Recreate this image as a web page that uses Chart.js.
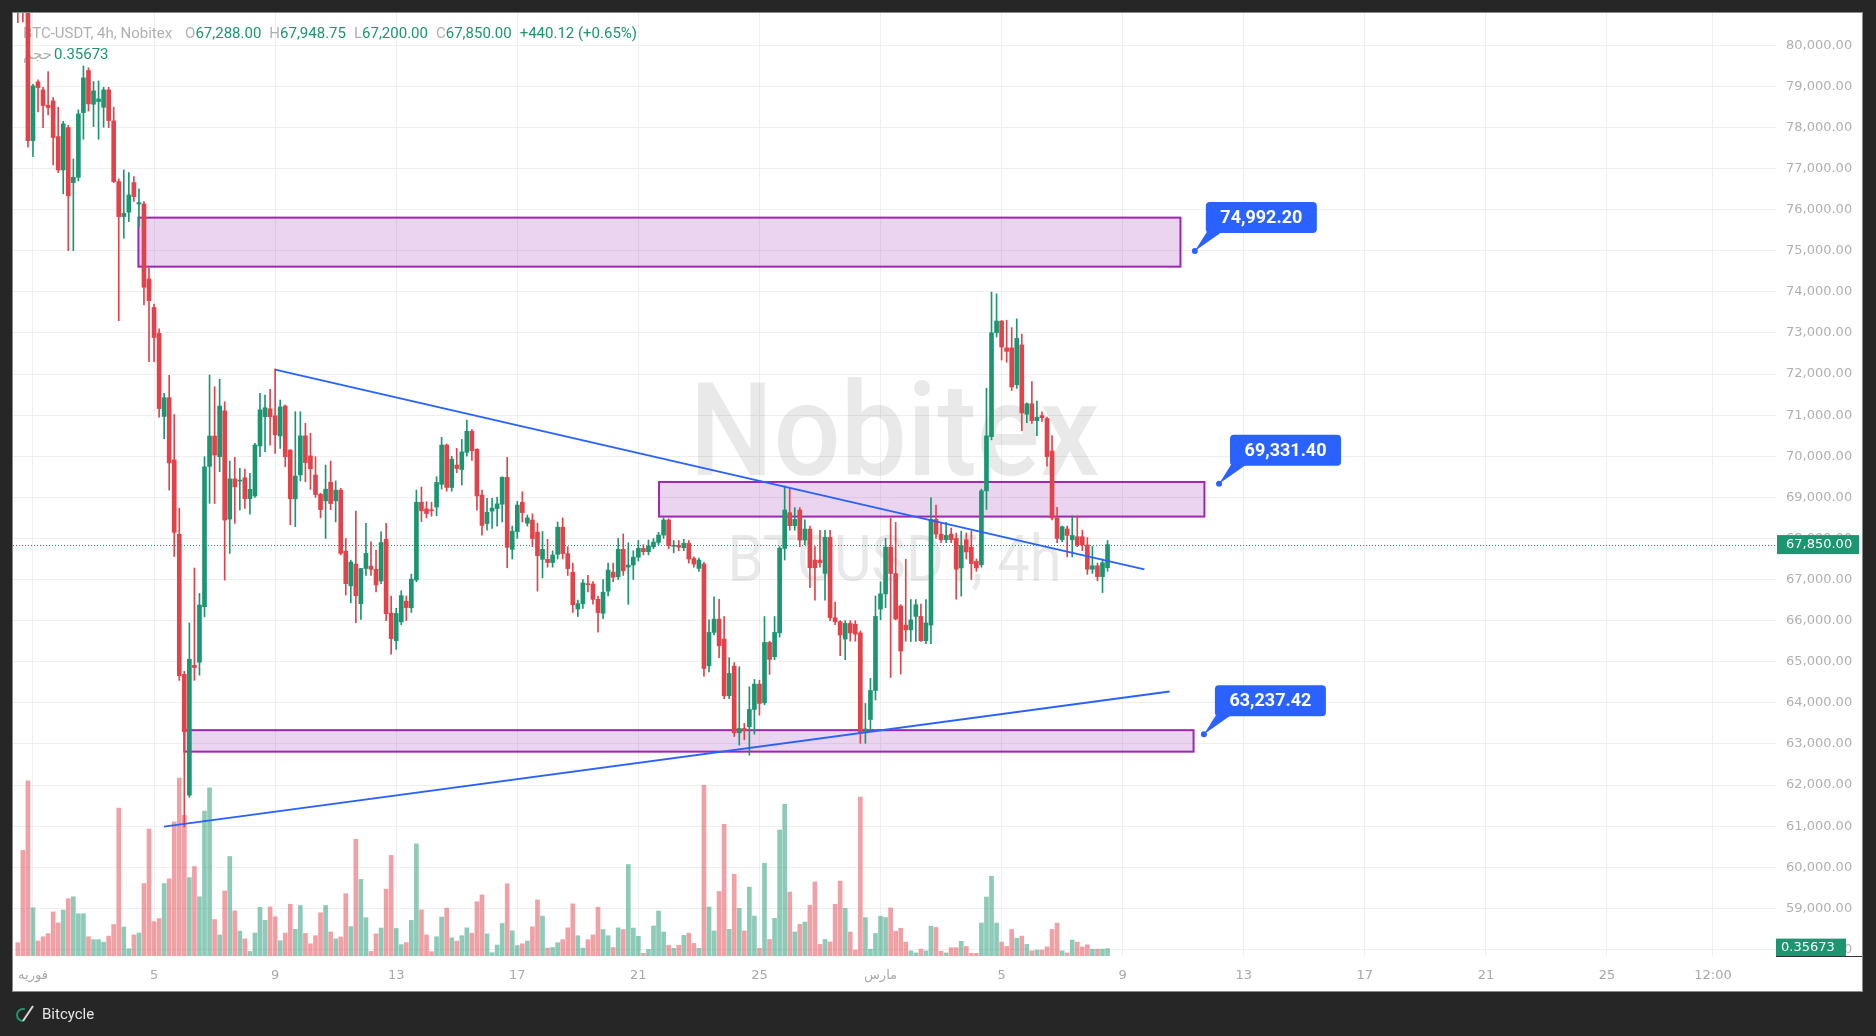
<!DOCTYPE html>
<html><head><meta charset="utf-8">
<script src="https://cdn.jsdelivr.net/npm/chart.js@4.4.1/dist/chart.umd.min.js"></script>
<style>html,body{margin:0;padding:0;background:#262626;overflow:hidden}canvas{display:block}</style>
</head><body>
<canvas id="c" width="1876" height="1036"></canvas>
<script>
// ---- DATA (4h candles, index 0 = 31 Jan 16:00) ----
const firstIndex = -1;
const opens = [81300,81500,81200,77681,79109,78914,78541,78646,77778,76967,77997,76659,76788,78362,79385,78565,78630,78492,78914,78160,76683,75831,75937,76659,76139,76139,74314,73620,72991,70969,71425,69911,68103,64693,61753,64913,64987,66337,
69752,70492,69990,71105,68471,69450,69396,69477,68968,69033,70250,70962,71155,70985,70495,71222,70152,68965,69545,70495,70010,69545,69076,68916,69370,68916,69176,67690,66847,67377,66413,67268,67327,67250,66964,67980,66185,65512,65970,66474,66313,66990,
68880,68720,68690,68765,69316,70273,69240,69786,69677,70096,70608,70172,69056,68363,68665,68728,68833,69488,67734,68166,68880,68370,68448,68153,67492,67492,67413,67613,68274,67631,67179,66283,66414,66892,66892,66518,66179,66718,67179,67066,67735,67301,67353,67544,
67758,67677,67798,67904,68082,68448,67810,67830,67774,67880,67514,67271,67376,64902,65713,66038,65551,64171,64893,63271,63376,63417,63839,64455,64001,65470,65121,65705,67758,68626,68310,68691,67961,68228,67474,67474,67149,68026,66070,65973,65551,65932,65913,
65702,63279,63595,64301,66282,66651,67789,67146,66356,65892,65776,66103,66103,65513,65892,68463,68105,67968,68105,67999,67283,67968,67789,67441,67357,69158,70476,73004,73289,72636,72636,71740,72709,71023,71277,70866,70992,70918,70128,68495,67968,68231,67968,68042,68042,67841,67251,67335,67072,67288];
const highs = [81500,81700,81300,79050,79158,78979,79360,78728,78492,78150,78050,77235,78427,79498,79450,79117,79133,78979,78979,78492,76750,76967,76902,76805,76504,76196,74573,73705,73100,71528,71969,71014,68735,64766,65942,67280,66662,69988,
71976,71693,71871,71327,69883,69972,69705,69688,69583,70313,71530,71490,71628,72130,71368,71246,70160,71084,71084,70800,70557,69988,69100,69786,69883,69400,69218,67999,67473,68666,67270,68366,67919,67716,68163,68366,66597,66300,66727,66600,67132,69177,
69250,68893,68880,69502,70459,70300,70000,70191,70410,70881,70650,70180,69177,68974,68974,68999,69500,69972,68300,68900,69137,68570,68600,68370,68170,67979,67700,68400,68500,67800,67400,66500,67000,67100,66950,66600,67000,67400,67400,68000,68109,67892,67700,67950,
67850,67960,68000,68150,68500,68480,67950,67950,67980,67950,67550,67520,67420,66020,66580,66520,66100,65100,64980,64880,63500,64390,64570,64550,66100,65500,66100,67800,69275,69243,68750,68750,68450,68300,67800,68200,68200,68200,66450,66000,66000,66000,66000,
65750,63985,64596,66598,66946,68000,68495,68390,66388,67494,66514,66514,66400,66514,68990,68811,68390,68390,68250,68130,68179,68130,68179,67500,69200,71656,73995,73953,73300,73310,73130,73342,72973,71300,71814,71340,71080,70950,70500,68760,68300,68300,68550,68550,68200,68020,67810,67400,67500,67948.75];
const lows = [80550,80570,77519,77291,78379,77997,78306,77089,76900,76383,75003,75003,76700,77713,78400,78022,77713,78006,77997,76659,73299,75304,75709,76200,75588,73681,72301,72301,70950,70426,69176,67559,64546,60982,61700,64546,64674,66094,
68853,68850,69623,66986,67635,68366,68690,68731,68593,69000,69988,70110,70272,70070,70191,69745,68330,68285,69400,69380,69193,69000,68500,67999,68700,68400,67600,66621,66434,65948,66029,67100,67100,66700,66900,66000,65185,65300,65900,66000,66200,66946,
68410,68500,68540,68552,69200,69150,69150,69600,69299,70000,69900,68690,68082,68200,68244,68300,68400,67286,67500,68000,68400,68300,67800,66718,67040,67300,67300,67500,67500,67100,66200,66100,66300,66700,66400,65720,66050,66600,66950,67000,67100,66397,67000,67450,
67600,67600,67750,67850,68000,67750,67650,67700,67700,67400,67300,67200,64650,64750,65650,65100,64100,64100,63180,62970,63100,62727,63240,63700,63950,64690,65050,65600,67474,68200,68200,67800,67850,66800,66500,67300,66500,66000,65900,65150,65050,65500,65500,
63016,63016,63300,64069,66019,66314,64617,66019,64701,65500,65492,65492,65492,65440,65439,68000,67900,67900,67900,66524,66598,67500,67000,67200,67300,68705,70400,72900,72340,72288,71600,71650,70623,70815,70800,70500,70850,69760,68450,67900,67920,67550,67550,67800,67700,67125,67150,66970,66683,67200];
const closes = [81000,81200,77681,79012,78971,78533,78484,77754,76967,78087,76334,76788,78330,79206,78573,78890,78695,78914,78168,76683,75831,75912,76358,76318,76172,74111,73786,72890,71160,71425,69838,68147,64663,63296,65060,64860,66380,69745,
70492,70029,71222,68447,69450,69255,69412,68968,69197,70273,71128,71180,70962,70520,71200,69990,68965,69520,70495,69845,69695,69068,68700,69198,68850,69176,67636,66900,67424,66605,67268,67636,67250,66870,67900,66170,65563,66175,66610,66318,67008,68880,
68674,68607,68674,69363,70273,69240,69929,69702,70105,70608,70137,69035,68317,68636,68738,68842,69488,67784,68175,68812,68628,68500,67996,67579,67735,67413,67596,68274,67631,67266,66388,66414,66918,66875,66518,66196,66692,67231,67057,67735,67214,67353,67544,67761,
67677,67815,67912,68082,68448,67823,67830,67790,67880,67498,67376,67474,64837,65713,66038,65389,64171,64715,63271,63376,63320,63839,64455,63985,65470,65056,65713,67758,68691,68310,68464,67961,68228,67287,67287,67409,68026,66070,65973,65648,65932,65700,65671,
63279,63363,64301,66103,66651,67789,67146,66040,65260,65776,66019,66388,65513,65945,68463,68105,67968,68073,67968,67251,67831,67673,67388,67283,69158,70497,73004,73289,72657,72551,71687,72868,71055,71277,70866,70950,70939,69991,68495,67999,68284,68073,68073,67841,67841,67251,67335,67072,67409.88,67850];
const volumes = [0.64,5.1,8.46,2.33,0.73,0.93,1.08,2.13,1.6,2.22,2.77,2.86,2.04,2.04,0.93,0.79,0.79,0.67,0.96,1.52,7.15,1.4,0.35,1.02,1.11,3.5,6.13,1.66,1.81,3.5,3.73,6.48,8.6,6.8,3.79,4.32,2.86,7.0,
8.13,1.76,1.02,3.14,4.81,2.18,1.2,0.83,0.22,1.11,2.35,1.72,2.37,1.9,0.74,1.11,2.5,1.29,2.44,1.09,0.59,0.98,2.09,2.44,1.16,0.83,0.92,3.01,1.42,5.64,3.7,1.85,0.22,1.07,1.35,3.23,4.86,1.33,0.55,0.65,1.72,5.42,
2.23,1.02,0.21,0.93,1.88,2.31,0.88,0.72,0.98,1.36,1.1,2.62,2.95,1.07,0.16,0.53,1.57,3.49,1.22,0.5,0.59,0.72,1.41,2.71,1.93,0.38,0.41,0.64,0.79,1.36,2.52,0.98,0.38,0.79,1.02,2.36,1.28,0.98,0.41,1.36,1.28,4.42,1.35,0.95,
0.13,0.32,1.45,2.17,1.16,0.52,0.37,0.52,1.0,1.1,0.61,0.37,8.24,2.37,1.21,3.12,6.36,1.29,3.95,2.3,1.21,3.33,1.93,0.37,4.48,0.8,1.82,6.09,7.33,3.09,1.16,1.53,1.64,2.45,3.58,0.56,0.8,0.68,2.5,3.62,2.3,1.16,0.29,
7.68,1.86,0.33,1.09,1.92,1.86,2.32,1.19,1.34,0.67,0.25,0.15,0.33,0.25,1.44,1.38,0.23,0.15,0.4,0.4,0.71,0.46,0.13,0.13,1.59,2.85,3.85,1.59,0.67,0.46,1.28,0.86,0.96,0.56,0.25,0.29,0.29,0.44,1.28,1.59,0.25,0.15,0.77,0.67,0.44,0.54,0.33,0.33,0.33,0.35673];

// x-axis ticks (candle index) and labels
const tickIndex  = [2,26,50,74,98,122,146,170,194,218,242,266,290,314,335];
const tickLabels = ['فوریه','5','9','13','17','21','25','مارس','5','9','13','17','21','25','12:00'];

// drawn zones (candle index range, price range)
const zoneStart  = [22.9, 126.1, 32];
const zoneEnd    = [229.45, 234.2, 232.05];
const zoneTop    = [75806, 69374, 63335];
const zoneBottom = [74613, 68532, 62812];

// trend lines
const lineStartIdx   = [50, 27.95];
const lineStartPrice = [72108, 60988];
const lineEndIdx     = [222.3, 227.3];
const lineEndPrice   = [67247, 64277];

// price callouts
const calloutIdx   = [232.3, 237.1, 234.1];
const calloutPrice = [74992.20, 69331.40, 63237.42];

const priceMin = 57840, priceMax = 80785, volMax = 45.56;
const xMin = -1.96, xMax = 347.5;

// ---- STYLE ----
const C_UP = '#1b9670', C_DN = '#e2434b';
const V_UP = 'rgba(27,150,112,0.5)', V_DN = 'rgba(226,67,75,0.5)';
const GRAY = '#b0b0b0';
const FONT = 'Roboto, "DejaVu Sans", sans-serif';
const AXFONT = '"DejaVu Sans", sans-serif';

const xs = opens.map((_, k) => firstIndex + k);
const isUp = opens.map((o, k) => closes[k] >= o);
const fmt2 = v => v.toLocaleString('en-US', {minimumFractionDigits: 2, maximumFractionDigits: 2});
const last = opens.length - 1;

const noPad = s => { s.paddingTop = 0; s.paddingBottom = 0; s.paddingLeft = 0; s.paddingRight = 0; };

const overlay = {
  id: 'overlay',
  beforeDraw(chart) {
    const ctx = chart.ctx, ca = chart.chartArea;
    const ys = chart.scales.y, xsc = chart.scales.x;
    ctx.save();
    ctx.fillStyle = '#262626';
    ctx.fillRect(0, 0, chart.width, chart.height);
    ctx.fillStyle = '#ffffff';
    ctx.fillRect(ca.left, ca.top, ys.right - ca.left, xsc.bottom - ca.top);
    ctx.strokeStyle = '#8a8a8a'; ctx.lineWidth = 1;
    ctx.strokeRect(ca.left - 0.5, ca.top - 0.5, ys.right - ca.left + 1, xsc.bottom - ca.top + 1);
    ctx.restore();
  },
  beforeDatasetsDraw(chart) {
    const ctx = chart.ctx, ca = chart.chartArea;
    const X = chart.scales.x, Y = chart.scales.y;
    ctx.save();
    // watermark
    const cx = (ca.left + ca.right) / 2, cy = (ca.top + ca.bottom) / 2;
    ctx.fillStyle = 'rgba(0,0,0,0.085)';
    ctx.textAlign = 'center'; ctx.textBaseline = 'alphabetic';
    ctx.font = '500 130px ' + FONT;
    ctx.fillText('Nobitex', cx, cy - 10, 410);
    ctx.font = '400 64px ' + FONT;
    ctx.fillText('BTCUSDT, 4h', cx, cy + 96, 334);
    // zones
    for (let z = 0; z < zoneStart.length; z++) {
      const x1 = X.getPixelForValue(zoneStart[z]), x2 = X.getPixelForValue(zoneEnd[z]);
      const y1 = Y.getPixelForValue(zoneTop[z]), y2 = Y.getPixelForValue(zoneBottom[z]);
      ctx.fillStyle = 'rgba(156,39,176,0.2)';
      ctx.fillRect(x1, y1, x2 - x1, y2 - y1);
      ctx.strokeStyle = '#9c27b0'; ctx.lineWidth = 2;
      ctx.strokeRect(x1, y1, x2 - x1, y2 - y1);
    }
    // last price dotted line
    const py = Math.round(Y.getPixelForValue(closes[last])) + 0.5;
    ctx.strokeStyle = C_UP; ctx.lineWidth = 1; ctx.setLineDash([1, 2]);
    ctx.beginPath(); ctx.moveTo(ca.left, py); ctx.lineTo(ca.right, py); ctx.stroke();
    ctx.setLineDash([]);
    // legend
    ctx.textAlign = 'left'; ctx.textBaseline = 'middle';
    ctx.font = '15px ' + FONT;
    const chg = closes[last] - closes[last - 1];
    const pct = chg / closes[last - 1] * 100;
    const parts = [
      ['BTC-USDT, 4h, Nobitex', GRAY, 13],
      ['O', GRAY, 0], [fmt2(opens[last]), C_UP, 8],
      ['H', GRAY, 0], [fmt2(highs[last]), C_UP, 8],
      ['L', GRAY, 0], [fmt2(lows[last]), C_UP, 8],
      ['C', GRAY, 0], [fmt2(closes[last]), C_UP, 8],
      [(chg >= 0 ? '+' : '') + fmt2(chg) + ' (' + (chg >= 0 ? '+' : '') + pct.toFixed(2) + '%)', C_UP, 0]
    ];
    let x = ca.left + 10; const y1 = ca.top + 21;
    for (const [t, c, g] of parts) {
      ctx.fillStyle = c; ctx.fillText(t, x, y1);
      x += ctx.measureText(t).width + g;
    }
    ctx.fillStyle = GRAY; ctx.fillText('حجم', ca.left + 10, ca.top + 42);
    ctx.fillStyle = C_UP; ctx.fillText(String(volumes[last]), ca.left + 41, ca.top + 42);
    ctx.restore();
  },
  afterDatasetsDraw(chart) {
    const ctx = chart.ctx;
    const X = chart.scales.x, Y = chart.scales.y;
    ctx.save();
    ctx.strokeStyle = '#2962ff'; ctx.lineWidth = 2;
    for (let l = 0; l < lineStartIdx.length; l++) {
      ctx.beginPath();
      ctx.moveTo(X.getPixelForValue(lineStartIdx[l]), Y.getPixelForValue(lineStartPrice[l]));
      ctx.lineTo(X.getPixelForValue(lineEndIdx[l]), Y.getPixelForValue(lineEndPrice[l]));
      ctx.stroke();
    }
    // callouts
    for (let c = 0; c < calloutIdx.length; c++) {
      const dx = X.getPixelForValue(calloutIdx[c]), dy = Y.getPixelForValue(calloutPrice[c]);
      const rl = dx + 11, rb = dy - 18, rw = 111, rh = 31, rt = rb - rh;
      ctx.fillStyle = '#2962ff';
      ctx.beginPath();
      ctx.roundRect(rl, rt, rw, rh, 4);
      ctx.fill();
      ctx.beginPath();
      ctx.moveTo(rl + 1, rb - 1); ctx.lineTo(rl + 16, rb - 1); ctx.lineTo(dx, dy); ctx.closePath();
      ctx.fill();
      ctx.beginPath(); ctx.arc(dx, dy, 3, 0, Math.PI * 2); ctx.fill();
      ctx.fillStyle = '#ffffff';
      ctx.font = 'bold 18px ' + FONT;
      ctx.textAlign = 'center'; ctx.textBaseline = 'middle';
      ctx.fillText(fmt2(calloutPrice[c]), rl + rw / 2, rt + rh / 2 + 1);
    }
    ctx.restore();
  },
  afterDraw(chart) {
    const ctx = chart.ctx, ca = chart.chartArea;
    const Y = chart.scales.y, V = chart.scales.yv;
    ctx.save();
    ctx.font = '13px ' + AXFONT;
    ctx.textAlign = 'left'; ctx.textBaseline = 'middle';
    // last price badge
    const py = Y.getPixelForValue(closes[last]);
    ctx.fillStyle = C_UP;
    ctx.fillRect(ca.right + 1, py - 9.5, 82, 19);
    ctx.fillStyle = '#ffffff';
    ctx.fillText(fmt2(closes[last]), ca.right + 10, py + 0.5);
    // volume badge
    const vy = V.getPixelForValue(volumes[last]);
    ctx.fillStyle = C_UP;
    ctx.fillRect(ca.right, vy - 10, 70, 18);
    ctx.fillStyle = '#ffffff';
    ctx.fillText(String(volumes[last]), ca.right + 5, vy - 0.5);
    // axis bottom line under price scale
    ctx.strokeStyle = '#333'; ctx.lineWidth = 1;
    ctx.beginPath(); ctx.moveTo(ca.right, ca.bottom + 0.5); ctx.lineTo(Y.right, ca.bottom + 0.5); ctx.stroke();
    // footer logo
    ctx.strokeStyle = C_UP; ctx.lineWidth = 2;
    ctx.beginPath(); ctx.arc(23, 1015, 6, Math.PI * 0.5, Math.PI * 1.6); ctx.stroke();
    ctx.strokeStyle = '#d9d9d9';
    ctx.beginPath(); ctx.moveTo(23, 1021); ctx.lineTo(33, 1006); ctx.stroke();
    ctx.fillStyle = '#e6e6e6';
    ctx.font = '15px ' + FONT;
    ctx.fillText('Bitcycle', 42, 1015);
    ctx.restore();
  }
};

new Chart(document.getElementById('c'), {
  type: 'bar',
  data: {
    datasets: [
      {
        label: 'volume', yAxisID: 'yv', order: 3,
        data: volumes.map((v, k) => ({x: xs[k], y: v})),
        backgroundColor: isUp.map(u => u ? V_UP : V_DN),
        barThickness: 4, grouped: false, borderWidth: 0
      },
      {
        label: 'wick', yAxisID: 'y', order: 2,
        data: lows.map((l, k) => ({x: xs[k], y: [l, highs[k]]})),
        backgroundColor: isUp.map(u => u ? C_UP : C_DN),
        barThickness: 1, grouped: false, borderWidth: 0, minBarLength: 1
      },
      {
        label: 'body', yAxisID: 'y', order: 1,
        data: opens.map((o, k) => ({x: xs[k], y: [o, closes[k]]})),
        backgroundColor: isUp.map(u => u ? C_UP : C_DN),
        barThickness: 4, grouped: false, borderWidth: 0, minBarLength: 1
      }
    ]
  },
  options: {
    responsive: false, animation: false, devicePixelRatio: 1,
    layout: {padding: {left: 13, top: 13, right: 14, bottom: 45}},
    plugins: {legend: {display: false}, tooltip: {enabled: false}},
    scales: {
      x: {
        type: 'linear', min: xMin, max: xMax, offset: false,
        grid: {color: '#efefef', drawTicks: false, offset: false},
        border: {display: false},
        afterBuildTicks: s => { s.ticks = tickIndex.map(v => ({value: v})); },
        afterFit: s => { s.height = 35; noPad(s); },
        ticks: {
          autoSkip: false, maxRotation: 0, padding: 12,
          color: '#a8a8a8', font: {family: AXFONT, size: 13},
          callback: v => { const i = tickIndex.indexOf(v); return i >= 0 ? tickLabels[i] : ''; }
        }
      },
      y: {
        type: 'linear', position: 'right', min: priceMin, max: priceMax,
        grid: {color: '#efefef', drawTicks: false},
        border: {display: false},
        afterBuildTicks: s => { const t = []; for (let v = 58000; v <= 80000; v += 1000) t.push({value: v}); s.ticks = t; },
        afterFit: s => { s.width = 86; noPad(s); },
        ticks: {
          padding: 10, color: GRAY, font: {family: AXFONT, size: 13},
          callback: v => fmt2(v)
        }
      },
      yv: {type: 'linear', display: false, min: 0, max: volMax}
    }
  },
  plugins: [overlay]
});
</script>
</body></html>
